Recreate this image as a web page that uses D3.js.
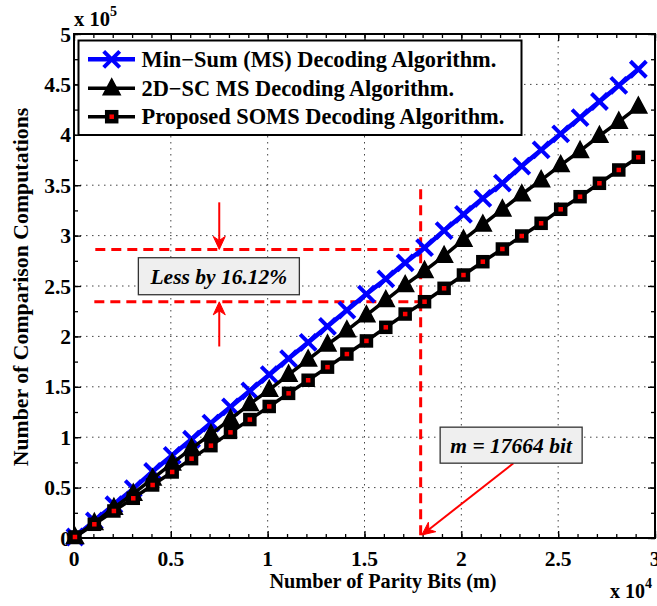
<!DOCTYPE html>
<html><head><meta charset="utf-8">
<script src="https://cdn.jsdelivr.net/npm/d3@7"></script>
<style>body{margin:0;background:#fff}svg{display:block}</style>
</head><body>
<svg id="c" width="657" height="606"></svg>
<script>
// ---- data ----
const parityBits = [50,1050,2060,3060,4060,5070,6070,7070,8080,9080,10080,11080,12090,13090,14090,15100,16100,17100,18100,19110,20110,21110,22120,23120,24120,25130,26130,27130,28130,29140];
const msValues = [1000,17000,33000,49000,66000,82000,98000,114000,130000,146000,162000,178000,194000,210000,226000,242000,257000,273000,288000,305000,321000,337000,352000,369000,385000,401000,417000,433000,449000,465000];
const scValues = [1000,15000,30000,44000,59000,74000,89000,103000,118000,133000,147000,162000,177000,192000,206000,221000,236000,251000,265000,280000,296000,311000,326000,341000,355000,370000,384000,399000,413000,428000];
const somsValues = [1000,13600,26800,39400,52600,65500,78700,91600,104800,117500,130500,143500,156500,169500,182500,195500,209000,222200,234400,247700,260900,274100,286700,299600,312200,326100,338600,351900,365100,377700];
const seriesNames = ["Min\u2212Sum (MS) Decoding Algorithm.","2D\u2212SC MS Decoding Algorithm.","Proposed SOMS Decoding Algorithm."];
const xTicks = [0,5000,10000,15000,20000,25000,30000];
const xTickLabels = ["0","0.5","1","1.5","2","2.5","3"];
const yTicks = [0,50000,100000,150000,200000,250000,300000,350000,400000,450000,500000];
const yTickLabels = ["0","0.5","1","1.5","2","2.5","3","3.5","4","4.5","5"];
const xLabel = "Number of Parity Bits (m)";
const yLabel = "Number of Comparison Computations";
const lessText = "Less by 16.12%";
const mText = "m = 17664 bit";
// annotation values
const mLine = 17900, msAtM = 286300, somsAtM = 234300;

// ---- layout ----
const L = 74, R = 655, T = 34, B = 538;
const svg = d3.select("#c");
const x = d3.scaleLinear().domain([0,30000]).range([L,R]);
const y = d3.scaleLinear().domain([0,500000]).range([B,T]);
const FONT = "'Liberation Serif','Times New Roman',serif";

// grid
const g = svg.append("g");
g.selectAll(".gx").data(xTicks.slice(1,-1)).enter().append("line")
 .attr("x1",d=>x(d)).attr("x2",d=>x(d)).attr("y1",T).attr("y2",B)
 .attr("stroke","#444").attr("stroke-width",1).attr("stroke-dasharray","1.5,4.5");
g.selectAll(".gy").data(yTicks.slice(1,-1)).enter().append("line")
 .attr("y1",d=>y(d)).attr("y2",d=>y(d)).attr("x1",L).attr("x2",R)
 .attr("stroke","#444").attr("stroke-width",1).attr("stroke-dasharray","1.5,4.5");

// axes with inward ticks
const xMinor = d3.range(0,30001,1000), yMinor = d3.range(0,500001,25000);
function addAxis(axis, transform){ 
  const a = svg.append("g").attr("transform",transform).call(axis);
  a.select(".domain").remove();
  a.selectAll("line").attr("stroke","#000").attr("stroke-width",1.3);
  a.selectAll("text").remove();
  return a;
}
addAxis(d3.axisBottom(x).tickValues(xMinor).tickSize(-4), `translate(0,${B})`);
addAxis(d3.axisBottom(x).tickValues(xTicks).tickSize(-7), `translate(0,${B})`);
addAxis(d3.axisTop(x).tickValues(xMinor).tickSize(-4), `translate(0,${T})`);
addAxis(d3.axisTop(x).tickValues(xTicks).tickSize(-7), `translate(0,${T})`);
addAxis(d3.axisLeft(y).tickValues(yMinor).tickSize(-4), `translate(${L},0)`);
addAxis(d3.axisLeft(y).tickValues(yTicks).tickSize(-7), `translate(${L},0)`);
addAxis(d3.axisRight(y).tickValues(yMinor).tickSize(-4), `translate(${R},0)`);
addAxis(d3.axisRight(y).tickValues(yTicks).tickSize(-7), `translate(${R},0)`);
svg.append("rect").attr("x",L).attr("y",T).attr("width",R-L).attr("height",B-T)
 .attr("fill","none").attr("stroke","#000").attr("stroke-width",2);

// tick labels
svg.append("g").selectAll("text").data(xTicks).enter().append("text")
 .attr("x",d=>x(d)).attr("y",566).attr("text-anchor","middle")
 .attr("font-family",FONT).attr("font-weight","bold").attr("font-size",21.5)
 .text((d,i)=>xTickLabels[i]);
svg.append("g").selectAll("text").data(yTicks).enter().append("text")
 .attr("x",71).attr("y",d=>y(d)+7.5).attr("text-anchor","end")
 .attr("font-family",FONT).attr("font-weight","bold").attr("font-size",21.5)
 .text((d,i)=>yTickLabels[i]);

// exponents
const e5 = svg.append("text").attr("x",74).attr("y",26).attr("font-family",FONT).attr("font-weight","bold").attr("font-size",20.5);
e5.append("tspan").text("x 10");
e5.append("tspan").attr("dy",-10).attr("font-size",14).text("5");
const e4 = svg.append("text").attr("x",610).attr("y",598).attr("font-family",FONT).attr("font-weight","bold").attr("font-size",20);
e4.append("tspan").text("x 10");
e4.append("tspan").attr("dy",-10).attr("font-size",14).text("4");

// axis labels
svg.append("text").attr("x",383).attr("y",588).attr("text-anchor","middle")
 .attr("font-family",FONT).attr("font-weight","bold").attr("font-size",20.3).text(xLabel);
svg.append("text").attr("transform","translate(28,287) rotate(-90)").attr("text-anchor","middle")
 .attr("font-family",FONT).attr("font-weight","bold").attr("font-size",21.8).text(yLabel);

// ---- annotations (under data) ----
const red = "#ff0000";
const ann = svg.append("g");
ann.append("line").attr("x1",x(1100)).attr("x2",x(mLine)).attr("y1",y(msAtM)).attr("y2",y(msAtM))
 .attr("stroke",red).attr("stroke-width",3).attr("stroke-dasharray","10,6");
ann.append("line").attr("x1",x(1050)).attr("x2",x(mLine)).attr("y1",y(somsAtM)).attr("y2",y(somsAtM))
 .attr("stroke",red).attr("stroke-width",3).attr("stroke-dasharray","10,6");
ann.append("line").attr("x1",x(mLine)).attr("x2",x(mLine)).attr("y1",y(346000)).attr("y2",y(0))
 .attr("stroke",red).attr("stroke-width",3).attr("stroke-dasharray","10,6");

// ---- series ----
const line = d3.line().x((d,i)=>x(parityBits[i])).y(d=>y(d));
function xMark(sel,cx,cy){ const s=8;
  sel.append("path").attr("d",`M${cx-s},${cy-s}L${cx+s},${cy+s}M${cx-s},${cy+s}L${cx+s},${cy-s}`)
   .attr("stroke","#0000ff").attr("stroke-width",4).attr("fill","none"); }
function triMark(sel,cx,cy){ 
  sel.append("path").attr("d",`M${cx},${cy-9.5}L${cx+8.5},${cy+6.5}L${cx-8.5},${cy+6.5}Z`).attr("fill","#000").attr("stroke","#000").attr("stroke-width",1.5); }
function sqMark(sel,cx,cy){ 
  sel.append("rect").attr("x",cx-4.5).attr("y",cy-4.5).attr("width",9).attr("height",9)
   .attr("fill",red).attr("stroke","#000").attr("stroke-width",4.5); }
const series = [
  {vals:msValues, color:"#0000ff", w:4.5, mark:xMark},
  {vals:scValues, color:"#000", w:3.5, mark:triMark},
  {vals:somsValues, color:"#000", w:3.5, mark:sqMark}
];
series.forEach(s=>{
  const gs = svg.append("g");
  gs.append("path").datum(s.vals).attr("d",line).attr("fill","none").attr("stroke",s.color).attr("stroke-width",s.w);
  s.vals.forEach((v,i)=>s.mark(gs,x(parityBits[i]),y(v)));
});

// arrows
function arrow(x1,y1,x2,y2,w){
  const a = Math.atan2(y2-y1,x2-x1), hl=13, hw=6, back=9;
  const ca=Math.cos(a), sa=Math.sin(a);
  const bx=x2-hl*ca, by=y2-hl*sa, nx=x2-back*ca, ny=y2-back*sa;
  svg.append("line").attr("x1",x1).attr("y1",y1).attr("x2",nx).attr("y2",ny).attr("stroke",red).attr("stroke-width",w);
  svg.append("path").attr("d",`M${x2},${y2}L${bx-hw*sa},${by+hw*ca}L${nx},${ny}L${bx+hw*sa},${by-hw*ca}Z`).attr("fill",red).attr("stroke",red).attr("stroke-width",1);
}
arrow(x(7500),y(333000),x(7500),y(msAtM),2);
arrow(x(7500),y(190000),x(7500),y(somsAtM),2);

// text boxes
function box(cx,cy,w,h,txt){
  svg.append("rect").attr("x",cx-w/2).attr("y",cy-h/2).attr("width",w).attr("height",h)
   .attr("fill","#efefef").attr("stroke","#333").attr("stroke-width",1.3);
  svg.append("text").attr("x",cx).attr("y",cy+7.5).attr("text-anchor","middle")
   .attr("font-family",FONT).attr("font-weight","bold").attr("font-style","italic").attr("font-size",21.5).text(txt);
}
box(x(7480),y(259700),161,37,lessText);
arrow(x(22690),y(74100),x(17960),y(3000),2);
box(x(22572),y(92100),142,36,mText);

// legend
const lg = svg.append("g");
lg.append("rect").attr("x",78.5).attr("y",40.5).attr("width",443).attr("height",94.5)
 .attr("fill","#fff").attr("stroke","#000").attr("stroke-width",2);
const rows = [59.3,88.3,116.7];
series.forEach((s,i)=>{
  lg.append("line").attr("x1",88).attr("x2",135).attr("y1",rows[i]).attr("y2",rows[i]).attr("stroke",s.color).attr("stroke-width",s.w);
  s.mark(lg,111.7,rows[i]);
  lg.append("text").attr("x",141.5).attr("y",rows[i]+7.5).attr("font-family",FONT).attr("font-weight","bold").attr("font-size",22.4).text(seriesNames[i]);
});
</script>
</body></html>
